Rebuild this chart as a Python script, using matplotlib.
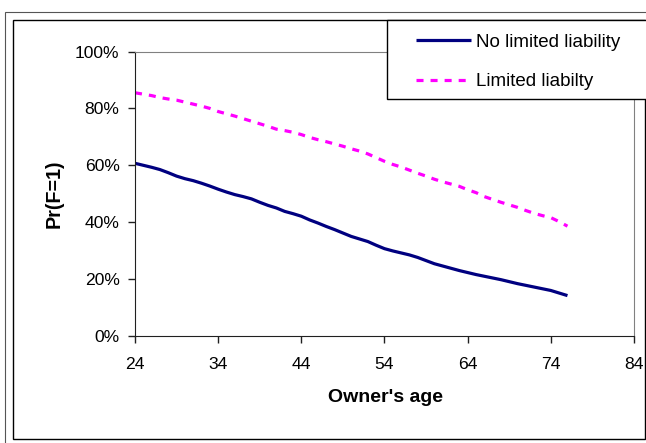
#!/usr/bin/env python3

import numpy as np
import matplotlib.pyplot as plt
from matplotlib.patches import Rectangle
from matplotlib.ticker import PercentFormatter

plt.rcParams['font.family'] = ['Liberation Sans', 'DejaVu Sans']

ages = list(range(24, 77))

no_limited = [
    0.607, 0.600, 0.593, 0.585, 0.574, 0.562, 0.553, 0.546, 0.537, 0.527,
    0.516, 0.506, 0.497, 0.490, 0.482, 0.470, 0.459, 0.450, 0.438, 0.430,
    0.421, 0.408, 0.397, 0.385, 0.374, 0.362, 0.350, 0.341, 0.332, 0.319,
    0.307, 0.299, 0.292, 0.285, 0.276, 0.265, 0.254, 0.246, 0.238, 0.230,
    0.223, 0.216, 0.210, 0.204, 0.198, 0.191, 0.184, 0.178, 0.172, 0.166,
    0.160, 0.151, 0.142,
]

limited = [
    0.855, 0.850, 0.845, 0.838, 0.833, 0.829, 0.822, 0.815, 0.808, 0.800,
    0.789, 0.781, 0.773, 0.764, 0.755, 0.746, 0.737, 0.727, 0.722, 0.716,
    0.708, 0.698, 0.690, 0.683, 0.675, 0.667, 0.658, 0.650, 0.640, 0.627,
    0.614, 0.603, 0.594, 0.583, 0.572, 0.562, 0.551, 0.542, 0.534, 0.526,
    0.514, 0.504, 0.490, 0.480, 0.470, 0.461, 0.452, 0.441, 0.431, 0.423,
    0.416, 0.402, 0.386,
]

x_ticks = [24, 34, 44, 54, 64, 74, 84]
y_ticks = [0.0, 0.2, 0.4, 0.6, 0.8, 1.0]

W, H = 646, 443
figure = plt.figure(figsize=(W / 100, H / 100), dpi=100)

# outer and inner frames of the embedded chart
figure.patches.append(Rectangle((5 / W, -0.05), 1.0, 1 - 12 / H + 0.05,
    transform=figure.transFigure, fill=False, edgecolor='#555555', lw=0.8))
figure.patches.append(Rectangle((12.5 / W, 1 - 439 / H), (645 - 12.5) / W,
    (439 - 19.5) / H, transform=figure.transFigure, fill=False,
    edgecolor='black', lw=1.0))

ax = figure.add_axes([135 / W, 1 - 336 / H, (634 - 135) / W, (336 - 51.5) / H])

line1, = ax.plot(ages, no_limited, color='#000080', lw=2.3,
    solid_capstyle='butt', label='No limited liability')
line2, = ax.plot(ages, limited, color='#FF00FF', lw=2.3,
    dashes=(2.2, 2.2), dash_capstyle='butt', label='Limited liabilty')

ax.set_xlim(24, 84)
ax.set_ylim(0, 1)
ax.set_xticks(x_ticks)
ax.set_yticks(y_ticks)
ax.yaxis.set_major_formatter(PercentFormatter(1.0, decimals=0))

for side in ('top', 'right'):
    ax.spines[side].set_color('#808080')
for side in ('left', 'bottom'):
    ax.spines[side].set_color('#202020')

ax.tick_params(direction='out', length=4.8, width=1.0, color='#202020',
    labelsize=12.6)
ax.tick_params(axis='y', pad=6.3)
ax.tick_params(axis='x', pad=10)

figure.text(54 / W, 1 - 193.5 / H, 'Pr(F=1)', rotation=90, fontsize=14.2,
    fontweight='bold', ha='center', va='center')
figure.text(385 / W, 1 - 398 / H, "Owner's age", fontsize=14,
    fontweight='bold', ha='center', va='center')

# legend box
figure.patches.append(Rectangle((387 / W, 1 - 99 / H), 0.5, (99 - 19.5) / H,
    transform=figure.transFigure, facecolor='white', edgecolor='black',
    lw=1.0, zorder=5))
legend = figure.legend(handles=[line1, line2], loc='upper left',
    bbox_to_anchor=(416 / W, 1 - 33.5 / H), frameon=False, fontsize=13.5,
    handlelength=2.93, handletextpad=0.27, labelspacing=1.2, borderpad=0,
    borderaxespad=0)
legend.set_zorder(6)

figure.savefig('out.png', dpi=100)
